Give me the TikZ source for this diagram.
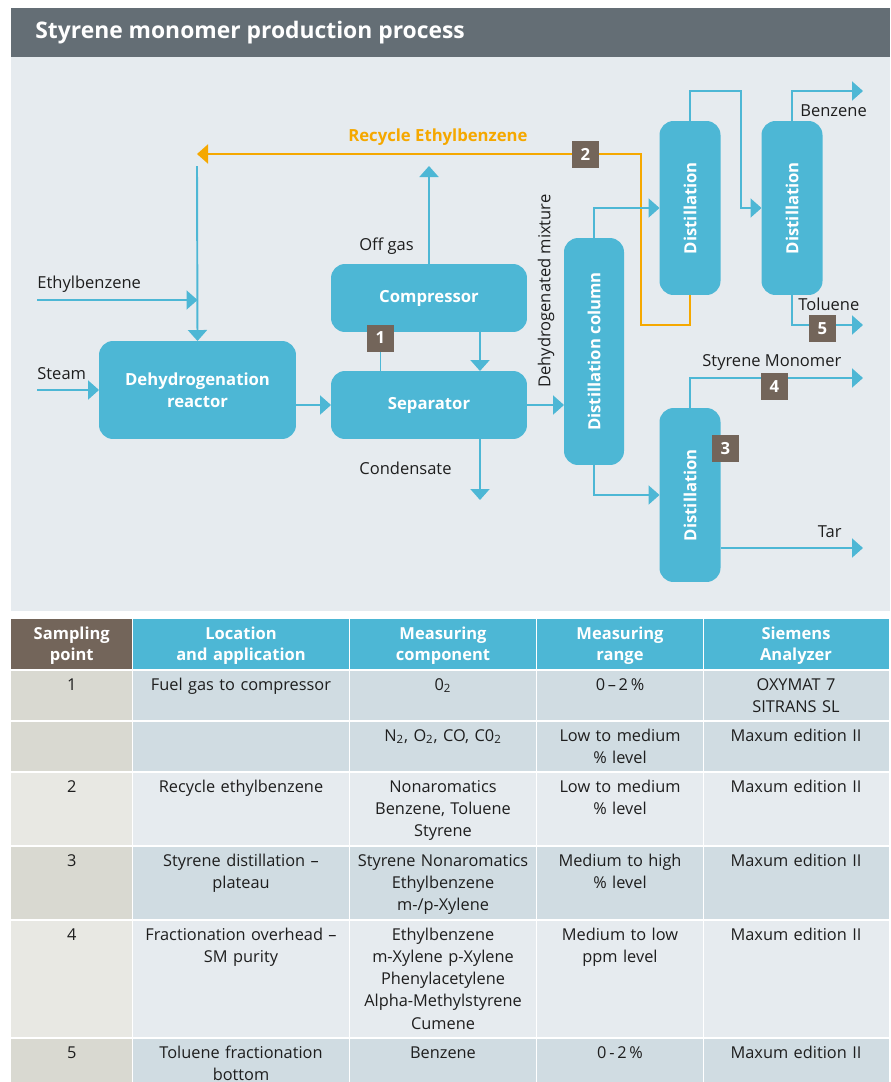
\documentclass[tikz,border=0pt]{standalone}
\usepackage{fontspec}
\setmainfont{Open Sans}
\usetikzlibrary{arrows.meta}
\definecolor{sieblue}{RGB}{77,183,213}
\definecolor{siegray}{RGB}{100,110,117}
\definecolor{siebg}{RGB}{230,235,239}
\definecolor{sieorange}{RGB}{245,168,0}
\definecolor{siebrown}{RGB}{115,101,90}
\definecolor{siecolA}{RGB}{217,217,209}
\definecolor{siecolB}{RGB}{232,232,227}
\definecolor{siecellA}{RGB}{208,220,226}
\definecolor{siecellB}{RGB}{230,235,239}
\definecolor{sietext}{RGB}{30,30,30}

\begin{document}
\begin{tikzpicture}[x=0.02cm,y=-0.02cm,
    unit/.style={fill=sieblue,rounded corners=0.28cm,text=white,font=\bfseries\fontsize{9.5pt}{12.5pt}\selectfont,align=center,inner sep=0pt,outer sep=0pt},
    pipe/.style={draw=sieblue,line width=1.1pt},
    flow/.style={pipe,-{Triangle[length=0.22cm,width=0.38cm]}},
    recycle/.style={draw=sieorange,line width=1.1pt,-{Triangle[length=0.22cm,width=0.38cm]}},
    sample/.style={fill=siebrown,text=white,font=\bfseries\fontsize{9.5pt}{11pt}\selectfont,minimum size=0.54cm,inner sep=0pt},
    stream/.style={anchor=base west,text=sietext,font=\fontsize{9.4pt}{11pt}\selectfont,inner sep=0pt},
    cell/.style={anchor=base,text=sietext,font=\fontsize{9.3pt}{12.7pt}\selectfont,align=center,text width=4.2cm,inner sep=0pt},
    head/.style={cell,text=white,font=\bfseries\fontsize{9.4pt}{12.5pt}\selectfont},
    grid/.style={draw=white,line width=0.035cm}]
    \useasboundingbox (0,0) rectangle (890,1082);
    % title bar and background
    \fill[siegray] (11,8) rectangle (890,57);
    \node[anchor=base west,text=white,font=\bfseries\fontsize{13pt}{15pt}\selectfont,inner sep=0pt] (title) at (35,38) {Styrene monomer production process};
    \fill[siebg] (11,57) rectangle (890,611);

    % process units
    \node[unit,minimum width=3.94cm,minimum height=1.96cm] (reactor) at (197.5,390) {Dehydrogenation\\reactor};
    \node[unit,minimum width=3.92cm,minimum height=1.36cm] (compressor) at (429,298) {Compressor};
    \node[unit,minimum width=3.92cm,minimum height=1.36cm] (separator) at (429,405) {Separator};
    \node[unit,minimum width=1.2cm,minimum height=4.54cm] (column) at (594,351.5) {\rotatebox{90}{Distillation column}};
    \node[unit,minimum width=1.22cm,minimum height=3.48cm] (dist1) at (690,208) {\rotatebox{90}{Distillation}};
    \node[unit,minimum width=1.22cm,minimum height=3.48cm] (dist2) at (792,208) {\rotatebox{90}{Distillation}};
    \node[unit,minimum width=1.22cm,minimum height=3.48cm] (dist3) at (690,495) {\rotatebox{90}{Distillation}};

    % stream ends and bends
    \coordinate (ebin) at (37,300);
    \coordinate (stin) at (37,390);
    \coordinate (rcout) at (197,166);
    \coordinate (offgas) at (429,166);
    \coordinate (cond) at (480,500);
    \coordinate (p1) at (380.5,338);
    \coordinate (rcturn) at (641,325);
    \coordinate (rcend) at (197,154);
    \coordinate (bz1) at (741,91);
    \coordinate (benz) at (863,91);
    \coordinate (tol) at (863,325);
    \coordinate (sm) at (863,378);
    \coordinate (tar) at (863,548);

    % recycle
    \draw[recycle] (dist1.south) |- (rcturn) |- (rcend);

    % streams
    \draw[flow] (ebin) -- (ebin -| reactor.north);
    \draw[flow] (rcout) -- (reactor.north);
    \draw[flow] (stin) -- (reactor.west);
    \draw[flow] (reactor.east |- separator.west) -- (separator.west);
    \draw[pipe] (p1 |- separator.north) -- (p1 |- compressor.south);
    \draw[flow] (compressor.south -| cond) -- (separator.north -| cond);
    \draw[flow] (separator.south -| cond) -- (cond);
    \draw[flow] (compressor.north) -- (offgas);
    \draw[flow] (separator.east) -- (column.west |- separator.east);
    \draw[flow] (column.north) |- (dist1.west);
    \draw[flow] (column.south) |- (dist3.west);
    \draw[flow] (dist1.north) |- (bz1) |- (dist2.west);
    \draw[flow] (dist2.north) |- (benz);
    \draw[flow] (dist2.south) |- (tol);
    \draw[flow] (dist3.north) |- (sm);
    \draw[flow] (dist3.east |- tar) -- (tar);

    % sampling points
    \node[sample] (s1) at (p1) {1};
    \node[sample] (s2) at (585.5,154.5) {2};
    \node[sample] (s3) at (725.5,448.5) {3};
    \node[sample] (s4) at (774.5,386.5) {4};
    \node[sample] (s5) at (822.5,328.5) {5};

    % stream labels
    \node[stream] (lbleb) at (37,288) {Ethylbenzene};
    \node[stream] (lblsteam) at (37,379) {Steam};
    \node[stream] (lbloff) at (359,250) {Off gas};
    \node[stream] (lblcond) at (359,474) {Condensate};
    \node[stream,text=sieorange,font=\bfseries\fontsize{9.5pt}{11pt}\selectfont] (lblrec) at (348,141) {Recycle Ethylbenzene};
    \node[stream,anchor=center] (lblmix) at (546,291) {\rotatebox{90}{Dehydrogenated mixture}};
    \node[stream] (lblbenz) at (800,116) {Benzene};
    \node[stream] (lbltol) at (798,310) {Toluene};
    \node[stream] (lblsm) at (702,366) {Styrene Monomer};
    \node[stream,anchor=base east] (lbltar) at (842,537) {Tar};

    % table
    \fill[siebrown] (11,619) rectangle (132.5,670);
    \fill[sieblue] (132.5,619) rectangle (889,670);
    \fill[siecolA] (11,670) rectangle (132.5,772);
    \fill[siecellA] (132.5,670) rectangle (889,772);
    \fill[siecolB] (11,772) rectangle (132.5,846);
    \fill[siecellB] (132.5,772) rectangle (889,846);
    \fill[siecolA] (11,846) rectangle (132.5,920);
    \fill[siecellA] (132.5,846) rectangle (889,920);
    \fill[siecolB] (11,920) rectangle (132.5,1038);
    \fill[siecellB] (132.5,920) rectangle (889,1038);
    \fill[siecolA] (11,1038) rectangle (132.5,1082);
    \fill[siecellA] (132.5,1038) rectangle (889,1082);
    \foreach \y in {670,721,772,846,920,1038}
        \draw[grid] (11,\y) -- (889,\y);
    \foreach \x in {132.5,349.5,536.5,703.5}
        \draw[grid] (\x,619) -- (\x,1082);

    \node[head] (h1) at (71.75,639) {Sampling\\point};
    \node[head] (h2) at (241,639) {Location\\and application};
    \node[head] (h3) at (443,639) {Measuring\\component};
    \node[head] (h4) at (620,639) {Measuring\\range};
    \node[head] (h5) at (796,639) {Siemens\\Analyzer};

    \node[cell] (a1) at (71.75,690) {1};
    \node[cell] (a2) at (241,690) {Fuel gas to compressor};
    \node[cell] (a3) at (443,690) {0\textsubscript{2}};
    \node[cell] (a4) at (620,690) {0\,–\,2\,\%};
    \node[cell] (a5) at (796,690) {OXYMAT 7\\SITRANS SL};

    \node[cell] (b3) at (443,741) {N\textsubscript{2}, O\textsubscript{2}, CO, C0\textsubscript{2}};
    \node[cell] (b4) at (620,741) {Low to medium\\\% level};
    \node[cell] (b5) at (796,741) {Maxum edition II};

    \node[cell] (c1) at (71.75,792) {2};
    \node[cell] (c2) at (241,792) {Recycle ethylbenzene};
    \node[cell] (c3) at (443,792) {Nonaromatics\\Benzene, Toluene\\Styrene};
    \node[cell] (c4) at (620,792) {Low to medium\\\% level};
    \node[cell] (c5) at (796,792) {Maxum edition II};

    \node[cell] (d1) at (71.75,866) {3};
    \node[cell] (d2) at (241,866) {Styrene distillation –\\plateau};
    \node[cell] (d3) at (443,866) {Styrene Nonaromatics\\Ethylbenzene\\m-/p-Xylene};
    \node[cell] (d4) at (620,866) {Medium to high\\\% level};
    \node[cell] (d5) at (796,866) {Maxum edition II};

    \node[cell] (e1) at (71.75,940) {4};
    \node[cell] (e2) at (241,940) {Fractionation overhead –\\SM purity};
    \node[cell] (e3) at (443,940) {Ethylbenzene\\m-Xylene p-Xylene\\Phenylacetylene\\Alpha-Methylstyrene\\Cumene};
    \node[cell] (e4) at (620,940) {Medium to low\\ppm level};
    \node[cell] (e5) at (796,940) {Maxum edition II};

    \node[cell] (f1) at (71.75,1058) {5};
    \node[cell] (f2) at (241,1058) {Toluene fractionation\\bottom};
    \node[cell] (f3) at (443,1058) {Benzene};
    \node[cell] (f4) at (620,1058) {0\,-\,2\,\%};
    \node[cell] (f5) at (796,1058) {Maxum edition II};
\end{tikzpicture}
\end{document}
